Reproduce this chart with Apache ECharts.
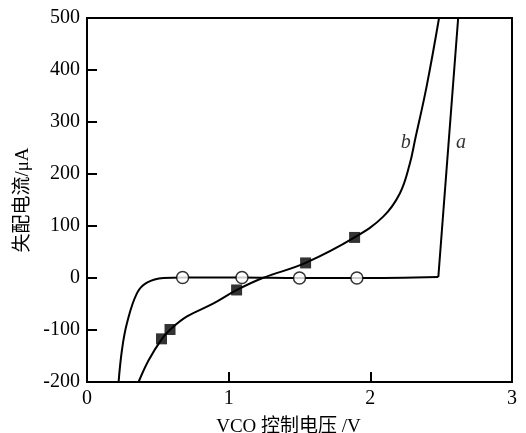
<!DOCTYPE html>
<html>
<head>
<meta charset="utf-8">
<script src="https://cdn.jsdelivr.net/npm/echarts@6/dist/echarts.min.js"></script>
<style>
  html, body { margin: 0; padding: 0; background: #fff; }
  #chart { width: 526px; height: 433px; }
</style>
</head>
<body>
<div id="chart"></div>
<script>
// curve a (smooth part, then straight rise)
let aVolt = [0.223, 0.247, 0.282, 0.353, 0.423, 0.54, 0.68, 1.09, 1.5, 1.9, 2.48]
let aCurr = [-200, -138, -87, -29, -9, 0, 1, 1, 0, 0, 2]
let aRiseVolt = [2.48, 2.62]
let aRiseCurr = [2, 500]
// open circles on a
let aMarkVolt = [0.675, 1.094, 1.50, 1.905]
let aMarkCurr = [1, 1, 0, 0]

// curve b
let bVolt = [0.364, 0.435, 0.529, 0.588, 0.706, 0.893, 1.058, 1.24, 1.543, 1.889, 2.091, 2.209, 2.279, 2.315, 2.397, 2.485]
let bCurr = [-200, -158, -117, -99, -74, -49, -23, 0, 29, 78, 118, 163, 220, 265, 368, 500]
// filled squares on b
let bMarkVolt = [0.526, 0.586, 1.056, 1.543, 1.889]
let bMarkCurr = [-117, -99, -23, 29, 78]

// curve labels
let curveNames = ['a', 'b']
let curveLabelVolt = [2.64, 2.25]
let curveLabelCurr = [260, 260]

let xTicks = [0, 1, 2, 3]
let yTicks = [-200, -100, 0, 100, 200, 300, 400, 500]

function pairs(xs, ys) {
  return xs.map((x, i) => [x, ys[i]])
}

const serif = '"Liberation Serif", "Noto Sans CJK SC", serif'
const ink = '#000'

let chart = echarts.init(document.getElementById('chart'), null, { renderer: 'canvas' })

let lineBase = {
  type: 'line',
  showSymbol: false,
  symbol: 'none',
  lineStyle: { color: ink, width: 2 },
  animation: false
}

chart.setOption({
  animation: false,
  backgroundColor: '#fff',
  grid: {
    left: 87, right: 14, top: 18, bottom: 51,
    outerBoundsMode: 'none',
    containLabel: false,
    show: true, borderColor: ink, borderWidth: 2
  },
  xAxis: {
    type: 'value',
    min: xTicks[0], max: xTicks[xTicks.length - 1], interval: 1,
    name: 'VCO 控制电压 /V',
    nameLocation: 'middle',
    nameGap: 36,
    nameTextStyle: { fontFamily: serif, fontSize: 19, color: ink, padding: [0, 22, 0, 0] },
    axisLine: { onZero: false, lineStyle: { color: ink, width: 2 } },
    axisTick: { inside: true, length: 10, lineStyle: { color: ink, width: 2 } },
    axisLabel: { fontFamily: serif, fontSize: 20, color: ink, margin: 7 },
    splitLine: { show: false }
  },
  yAxis: {
    type: 'value',
    min: yTicks[0], max: yTicks[yTicks.length - 1], interval: 100,
    name: '失配电流/μA',
    nameLocation: 'middle',
    nameGap: 52,
    nameTextStyle: { fontFamily: serif, fontSize: 19, color: ink },
    axisLine: { onZero: false, lineStyle: { color: ink, width: 2 } },
    axisTick: { inside: true, length: 10, lineStyle: { color: ink, width: 2 } },
    axisLabel: { fontFamily: serif, fontSize: 20, color: ink, margin: 7 },
    splitLine: { show: false }
  },
  series: [
    Object.assign({}, lineBase, {
      name: 'a',
      smooth: 0.4,
      data: pairs(aVolt, aCurr)
    }),
    Object.assign({}, lineBase, {
      name: 'a-rise',
      data: pairs(aRiseVolt, aRiseCurr)
    }),
    Object.assign({}, lineBase, {
      name: 'b',
      smooth: 0.4,
      data: pairs(bVolt, bCurr)
    }),
    {
      type: 'scatter',
      name: 'a-mark',
      symbol: 'circle',
      symbolSize: 12,
      itemStyle: { color: '#fff', borderColor: ink, borderWidth: 1.5 },
      data: pairs(aMarkVolt, aMarkCurr),
      z: 5
    },
    {
      type: 'scatter',
      name: 'b-mark',
      symbol: 'rect',
      symbolSize: 11,
      itemStyle: { color: ink },
      data: pairs(bMarkVolt, bMarkCurr),
      z: 5
    },
    {
      type: 'scatter',
      name: 'labels',
      symbolSize: 0,
      silent: true,
      data: pairs(curveLabelVolt, curveLabelCurr).map((p, i) => ({ value: p, name: curveNames[i] })),
      label: {
        show: true,
        position: 'inside',
        formatter: p => p.name,
        fontFamily: serif,
        fontStyle: 'italic',
        fontSize: 20,
        color: ink
      }
    }
  ]
})
</script>
</body>
</html>
